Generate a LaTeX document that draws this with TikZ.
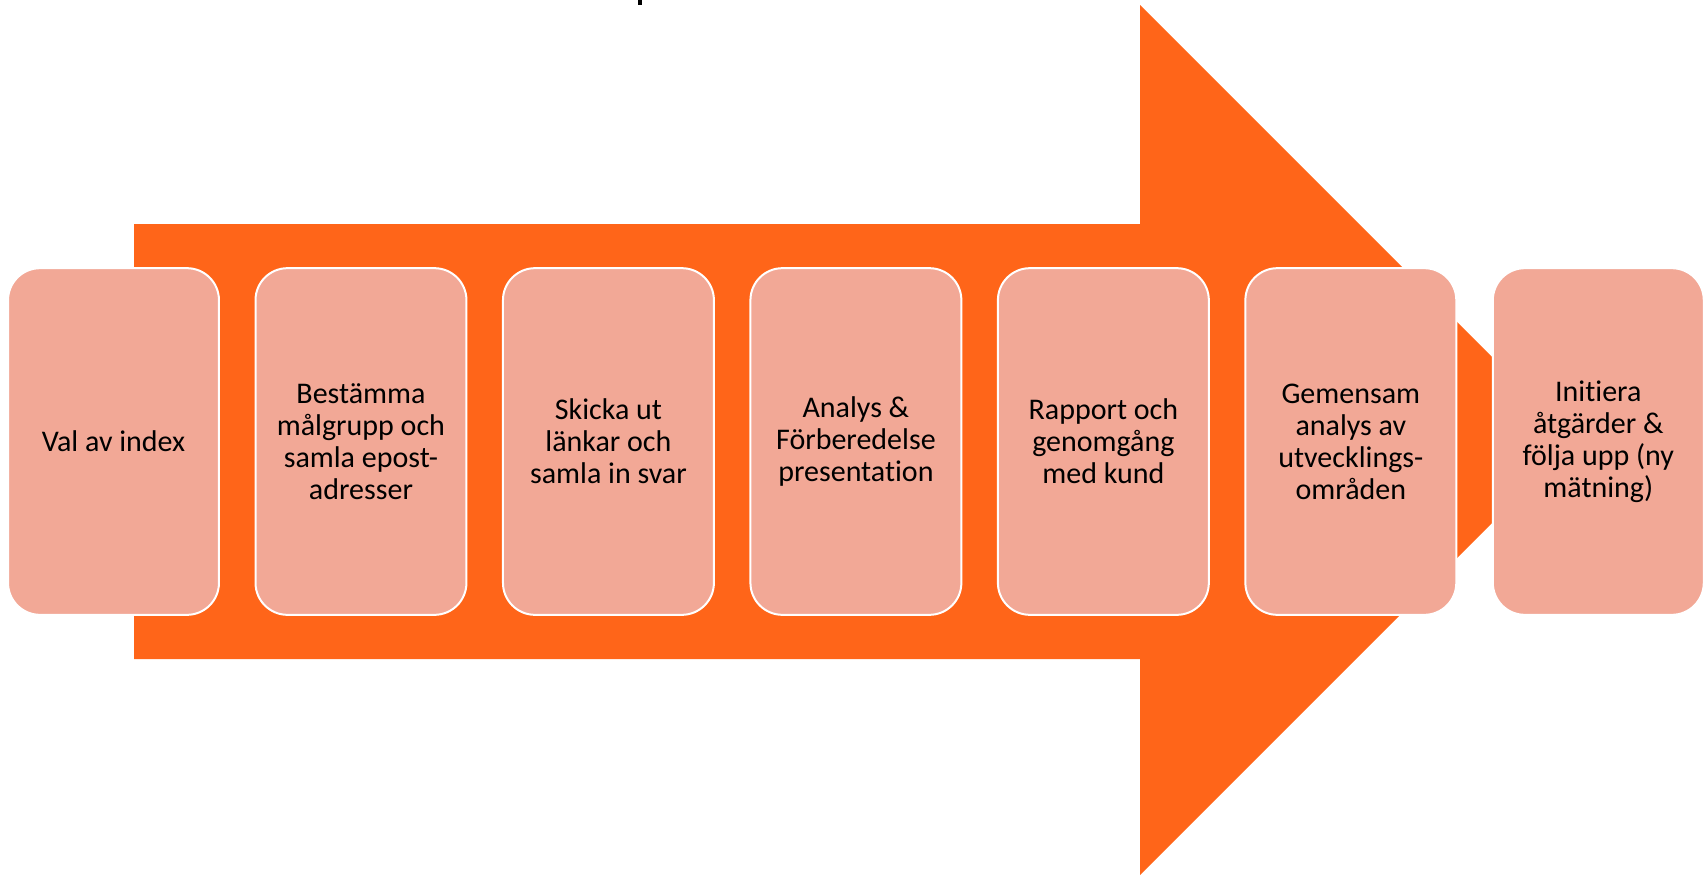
\documentclass[tikz,border=0pt]{standalone}
\usepackage{fontspec}
\setmainfont{Carlito}[Ligatures=NoCommon]
\usetikzlibrary{positioning}
\definecolor{arroworange}{HTML}{FF6519}
\definecolor{boxsalmon}{HTML}{F2A896}
\begin{document}
\begin{tikzpicture}[
            x=0.75pt, y=-0.75pt,
            node distance=27.4pt,
            every node/.style={font=\fontsize{22.5}{24}\selectfont},
            stepbox/.style={rectangle, rounded corners=24pt, draw=white, line width=1.5pt,
                fill=boxsalmon, minimum width=158.2pt, minimum height=260pt,
                inner sep=0pt, outer sep=0pt, align=center},
            bigarrow/.style={fill=arroworange, draw=none}
        ]
        \useasboundingbox (0,0) rectangle (1703,875);

        % big arrow behind the steps
        \fill[bigarrow] (134,224) -- (1140,224) -- (1140,5) -- (1575,440)
            -- (1140,875) -- (1140,659) -- (134,659) -- cycle;
        \fill[black] (638,0) rectangle (642,5);

        \node[stepbox] (val) at (113.5,441.5) {Val av index};
        \node[stepbox, right=of val] (malgrupp) {Bestämma\\målgrupp och\\samla epost-\\adresser};
        \node[stepbox, right=of malgrupp] (skicka) {Skicka ut\\länkar och\\samla in svar};
        \node[stepbox, right=of skicka] (analys) {Analys \&\\Förberedelse\\presentation};
        \node[stepbox, right=of analys] (rapport) {Rapport och\\genomgång\\med kund};
        \node[stepbox, right=of rapport] (gemensam) {Gemensam\\analys av\\utvecklings-\\områden};
        \node[stepbox, right=of gemensam] (initiera) {Initiera\\åtgärder \&\\följa upp (ny\\mätning)};

    \end{tikzpicture}
\end{document}
